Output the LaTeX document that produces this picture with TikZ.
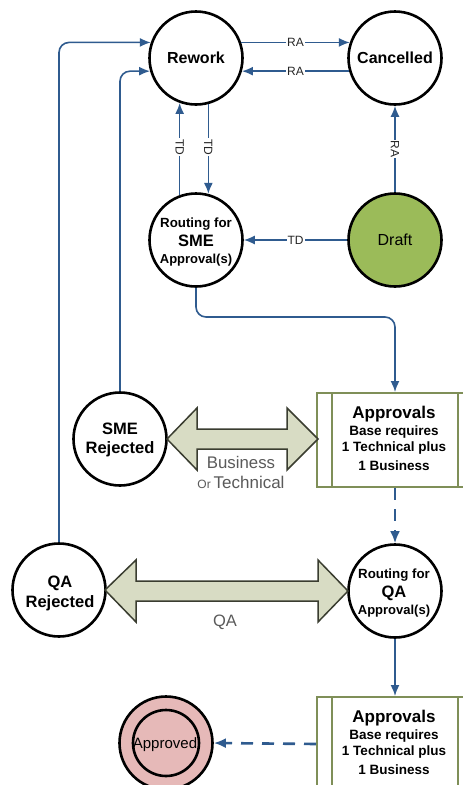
\documentclass[tikz,border=0pt]{standalone}
\usepackage{fontspec}
\setmainfont{Liberation Sans}
\usetikzlibrary{arrows.meta}
\definecolor{lineblue}{HTML}{2F5B8F}
\definecolor{boxolive}{HTML}{7F8F58}
\definecolor{fatfill}{HTML}{D8DCC4}
\definecolor{fatline}{HTML}{3A3D30}
\definecolor{draftgreen}{HTML}{9BBB59}
\definecolor{apppink}{HTML}{E6B9B8}
\definecolor{labgray}{HTML}{5A5A5A}
\newcommand\myfs[1]{\fontsize{#1}{#1}\selectfont}
\tikzset{
  st/.style={circle, draw=black, line width=2.6pt, minimum size=93pt, inner sep=0pt},
  tb/.style={anchor=base, inner sep=0pt},
  flow/.style={draw=lineblue, line width=1.6pt, -{Latex[length=11pt,width=9pt]}},
  dflow/.style={draw=lineblue, line width=2.6pt, dash pattern=on 12pt off 9pt, -{Latex[length=12pt,width=10pt]}},
  lab/.style={font=\myfs{12}, fill=white, inner sep=1pt, text=black!85},
  apbox/.style={rectangle, draw=boxolive, line width=2pt, minimum width=156pt, minimum height=94pt, inner sep=0pt},
  inline/.style={draw=boxolive, line width=2pt},
  fat/.style={draw=fatline, fill=fatfill, line width=1.5pt, line join=miter},
  bx1/.style={font=\bfseries\myfs{17}},
  bx2/.style={font=\bfseries\myfs{13.5}},
  gl/.style={text=labgray}
}
\begin{document}
\begin{tikzpicture}[x=1pt,y=-1pt]
\useasboundingbox (0,0) rectangle (463,785);
\clip (0,0) rectangle (463,785);
\fill[white] (0,0) rectangle (463,785);

% state circles
\node[st, font=\bfseries\myfs{16}] (rework) at (196,58) {Rework};
\node[st, font=\bfseries\myfs{16}] (cancelled) at (395,58) {Cancelled};
\node[st] (rsme) at (196,240) {};
\node[tb, font=\bfseries\myfs{13.3}] (rsmea) at (196,227) {Routing for};
\node[tb, font=\bfseries\myfs{16.5}] (rsmeb) at (196,246) {SME};
\node[tb, font=\bfseries\myfs{13}] (rsmec) at (196,263) {Approval(s)};
\node[st, fill=draftgreen, font=\myfs{16}] (draft) at (395,240) {Draft};

\node[st] (smerej) at (120,439) {};
\node[tb, font=\bfseries\myfs{16.5}] (smereja) at (120,434) {SME};
\node[tb, font=\bfseries\myfs{16.5}] (smerejb) at (120,453) {Rejected};

\node[st] (qarej) at (59,590) {};
\node[tb, font=\bfseries\myfs{16.5}] (qareja) at (60,587) {QA};
\node[tb, font=\bfseries\myfs{16.5}] (qarejb) at (60,607) {Rejected};

\node[st] (rqa) at (395,591) {};
\node[tb, font=\bfseries\myfs{13.3}] (rqaa) at (394,578) {Routing for};
\node[tb, font=\bfseries\myfs{16.5}] (rqab) at (394,597) {QA};
\node[tb, font=\bfseries\myfs{13}] (rqac) at (394,614) {Approval(s)};

% approvals boxes
\node[apbox] (box1) at (395,440) {};
\draw[inline] ([xshift=16pt]box1.north west) -- ([xshift=16pt]box1.south west);
\draw[inline] ([xshift=-16pt]box1.north east) -- ([xshift=-16pt]box1.south east);
\node[tb, bx1] (b1a) at (394,418) {Approvals};
\node[tb, bx2] (b1b) at (394,435) {Base requires};
\node[tb, bx2] (b1c) at (394,451) {1 Technical plus};
\node[tb, bx2] (b1d) at (394,470) {1 Business};

\node[apbox] (box2) at (395,744) {};
\draw[inline] ([xshift=16pt]box2.north west) -- ([xshift=16pt]box2.south west);
\draw[inline] ([xshift=-16pt]box2.north east) -- ([xshift=-16pt]box2.south east);
\node[tb, bx1] (b2a) at (394,722) {Approvals};
\node[tb, bx2] (b2b) at (394,739) {Base requires};
\node[tb, bx2] (b2c) at (394,755) {1 Technical plus};
\node[tb, bx2] (b2d) at (394,774) {1 Business};

% approved
\node[st, fill=apppink] (approved) at (166,743) {};
\draw[black, line width=2.6pt] (approved.center) circle[radius=33];
\node[font=\myfs{15}, inner sep=0pt, text depth=0pt] (apptxt) at (165,743) {Approved};

% fat double arrows
\draw[fat] (167,439) -- (197,408) -- (197,429) -- (287,429) -- (287,408) -- (318,439)
  -- (287,470) -- (287,449) -- (197,449) -- (197,470) -- cycle;
\node[tb, gl, font=\myfs{16.8}] (lb1) at (241,468) {Business};
\node[tb, gl, font=\myfs{17}] (lb2) at (241,488) {{\myfs{12}Or}\,Technical};

\draw[fat] (105,590) -- (136,560) -- (136,581) -- (318,581) -- (318,560) -- (348,591)
  -- (318,622) -- (318,601) -- (136,601) -- (136,622) -- cycle;
\node[tb, gl, font=\myfs{16.5}] (lb3) at (225,626) {QA};

% connectors
\draw[flow] (rework.19) -- (cancelled.161) node[lab, midway] {RA};
\draw[flow] (cancelled.196) -- (rework.-16) node[lab, midway] {RA};
\draw[flow] (rsme.110) -- (rework.250) node[lab, pos=0.52, rotate=-90] {TD};
\draw[flow] (rework.285) -- (rsme.75) node[lab, pos=0.48, rotate=-90] {TD};
\draw[flow] (draft.north) -- (cancelled.south) node[lab, midway, rotate=-90] {RA};
\draw[flow] (draft.west) -- (rsme.east) node[lab, midway] {TD};

\draw[flow, rounded corners=10pt] (qarej.north) |- (rework.161);
\draw[flow, rounded corners=10pt] (smerej.north) |- (rework.196);

\coordinate (c1) at (395,317);
\draw[flow, rounded corners=10pt] (rsme.south) |- (c1) -- (box1.north);

\draw[dflow] (box1.south) -- (rqa.north);
\draw[flow] (rqa.south) -- (box2.north);
\draw[dflow] (box2.west) -- (approved.east);
\end{tikzpicture}
\end{document}
